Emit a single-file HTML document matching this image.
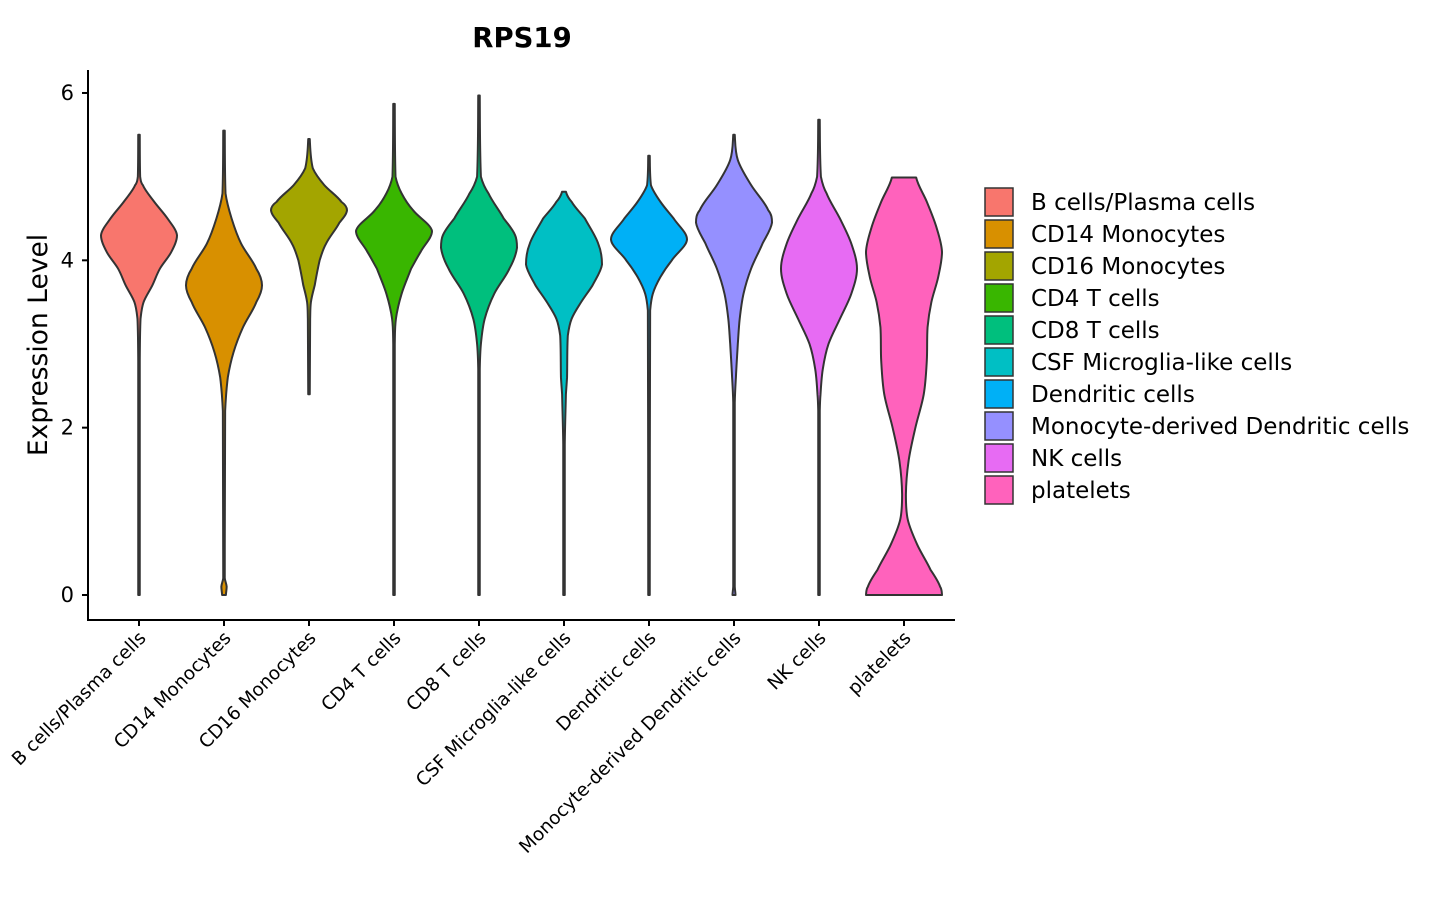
<!DOCTYPE html>
<html><head><meta charset="utf-8"><style>
html,body{margin:0;padding:0;background:#fff;}
svg{display:block;font-family:"DejaVu Sans","Liberation Sans",sans-serif;}
</style></head><body>
<svg id="chart" width="1440" height="900">
<text x="522" y="47" text-anchor="middle" font-size="27.5" font-weight="bold">RPS19</text>
<text transform="translate(47,345) rotate(-90)" text-anchor="middle" font-size="26.5">Expression Level</text>
<g id="plot"></g>
<g id="legend"></g>
</svg>
<script>
const categories = ["B cells/Plasma cells","CD14 Monocytes","CD16 Monocytes","CD4 T cells","CD8 T cells","CSF Microglia-like cells","Dendritic cells","Monocyte-derived Dendritic cells","NK cells","platelets"];
const colors = ["#F8766D","#D89000","#A3A500","#39B600","#00BF7D","#00BFC4","#00B0F6","#9590FF","#E76BF3","#FF62BC"];
const yTicks = [0,2,4,6];
// density profiles: [value, relative half-width], top to bottom
const vBcells = [[5.5,0.02],[5.0,0.03],[4.9,0.1],[4.7,0.4],[4.5,0.75],[4.3,1.0],[4.1,0.85],[3.9,0.55],[3.7,0.35],[3.5,0.12],[3.3,0.04],[2.8,0.02],[0,0.02]];
const vCD14 = [[5.55,0.02],[4.8,0.04],[4.5,0.2],[4.2,0.45],[3.9,0.85],[3.7,1.0],[3.5,0.85],[3.2,0.5],[2.9,0.25],[2.6,0.1],[2.2,0.03],[0.2,0.02],[0.1,0.07],[0,0.05]];
const vCD16 = [[5.45,0.02],[5.1,0.1],[4.9,0.4],[4.7,0.85],[4.6,1.0],[4.45,0.8],[4.2,0.45],[4.0,0.28],[3.7,0.15],[3.5,0.05],[3.3,0.03],[2.4,0.02]];
const vCD4 = [[5.87,0.02],[5.0,0.04],[4.8,0.2],[4.6,0.5],[4.35,1.0],[4.1,0.7],[3.9,0.45],[3.6,0.2],[3.3,0.05],[3.0,0.02],[0,0.02]];
const vCD8 = [[5.97,0.02],[5.0,0.05],[4.8,0.25],[4.5,0.65],[4.3,0.95],[4.15,1.0],[3.9,0.8],[3.6,0.4],[3.3,0.15],[3.0,0.05],[2.7,0.02],[0,0.02]];
const vCSF = [[4.82,0.05],[4.7,0.2],[4.5,0.55],[4.2,0.9],[3.95,1.0],[3.7,0.75],[3.5,0.45],[3.3,0.2],[3.1,0.1],[2.6,0.08],[2.4,0.05],[1.8,0.02],[0,0.02]];
const vDC = [[5.25,0.02],[4.9,0.05],[4.7,0.3],[4.5,0.65],[4.25,1.0],[4.0,0.6],[3.8,0.3],[3.6,0.1],[3.4,0.03],[0,0.02]];
const vMoDC = [[5.5,0.02],[5.2,0.1],[4.9,0.45],[4.6,0.9],[4.45,1.0],[4.2,0.75],[3.9,0.45],[3.6,0.25],[3.3,0.15],[3.0,0.1],[2.6,0.05],[2.3,0.02],[0.1,0.02],[0,0.04]];
const vNK = [[5.68,0.02],[5.0,0.05],[4.8,0.2],[4.5,0.55],[4.2,0.85],[3.9,1.0],[3.6,0.85],[3.3,0.55],[3.0,0.25],[2.7,0.1],[2.4,0.04],[2.2,0.02],[0,0.02]];
const vPlatelets = [[4.99,0.32],[4.7,0.6],[4.4,0.85],[4.1,1.0],[3.8,0.9],[3.5,0.72],[3.2,0.62],[2.8,0.6],[2.4,0.52],[2.0,0.3],[1.6,0.12],[1.2,0.05],[0.9,0.1],[0.6,0.35],[0.3,0.7],[0.1,0.95],[0,1.0]];
const profiles = [vBcells,vCD14,vCD16,vCD4,vCD8,vCSF,vDC,vMoDC,vNK,vPlatelets];

const NS="http://www.w3.org/2000/svg";
const x0=88, bandW=85, axisY=620, maxHalf=38;
function xScale(i){return x0+51+i*bandW;}
function yScale(v){return 595-v*83.67;}
function mk(tag,attrs,parent){const e=document.createElementNS(NS,tag);for(const k in attrs)e.setAttribute(k,attrs[k]);parent.appendChild(e);return e;}
function clamp(v,a,b){const lo=Math.min(a,b),hi=Math.max(a,b);return Math.max(lo,Math.min(hi,v));}
function segs(pts){
  let d="";
  for(let i=0;i<pts.length-1;i++){
    const p0=pts[Math.max(0,i-1)],p1=pts[i],p2=pts[i+1],p3=pts[Math.min(pts.length-1,i+2)];
    const c1=[clamp(p1[0]+(p2[0]-p0[0])/6,p1[0],p2[0]),p1[1]+(p2[1]-p1[1])/3];
    const c2=[clamp(p2[0]-(p3[0]-p1[0])/6,p1[0],p2[0]),p2[1]-(p2[1]-p1[1])/3];
    d+=" C"+c1[0].toFixed(2)+","+c1[1].toFixed(2)+" "+c2[0].toFixed(2)+","+c2[1].toFixed(2)+" "+p2[0].toFixed(2)+","+p2[1].toFixed(2);
  }
  return d;
}
const plot=document.getElementById('plot');
profiles.forEach((prof,i)=>{
  const cx=xScale(i);
  const right=prof.map(p=>[cx+p[1]*maxHalf,yScale(p[0])]);
  const left=prof.slice().reverse().map(p=>[cx-p[1]*maxHalf,yScale(p[0])]);
  let d="M"+right[0][0].toFixed(2)+","+right[0][1].toFixed(2)+segs(right);
  d+=" L"+left[0][0].toFixed(2)+","+left[0][1].toFixed(2)+segs(left)+" Z";
  const path=mk('path',{d:d,fill:colors[i],stroke:'#333333','stroke-width':2,'stroke-linejoin':'round'},plot);
  
  
});
const ya=mk('line',{x1:x0,y1:70,x2:x0,y2:axisY+1,stroke:'#000','stroke-width':2},plot);


const xa=mk('line',{x1:x0-1,y1:axisY,x2:955,y2:axisY,stroke:'#000','stroke-width':2},plot);


yTicks.forEach(t=>{
  const y=yScale(t);
  const tk=mk('line',{x1:x0-6,y1:y,x2:x0,y2:y,stroke:'#000','stroke-width':2},plot);
  
  
  const tx=mk('text',{x:74,y:y+7,'text-anchor':'end','font-size':21},plot);
  tx.textContent=t;
  
  
});
categories.forEach((c,i)=>{
  const cx=xScale(i);
  const tk=mk('line',{x1:cx,y1:axisY,x2:cx,y2:axisY+6,stroke:'#000','stroke-width':2},plot);
  
  
  const tx=mk('text',{transform:'translate('+(cx+8)+',639) rotate(-45)','text-anchor':'end','font-size':18.5},plot);
  tx.textContent=c;
  
  
});
const lg=document.getElementById('legend');
categories.forEach((c,i)=>{
  const y=188+i*32;
  const r=mk('rect',{x:985,y:y,width:28,height:28,fill:colors[i],stroke:'#333333','stroke-width':1.5},lg);
  
  
  const t=mk('text',{x:1031,y:y+22,'font-size':23},lg);
  t.textContent=c;
  
  
});
</script>
</body></html>
